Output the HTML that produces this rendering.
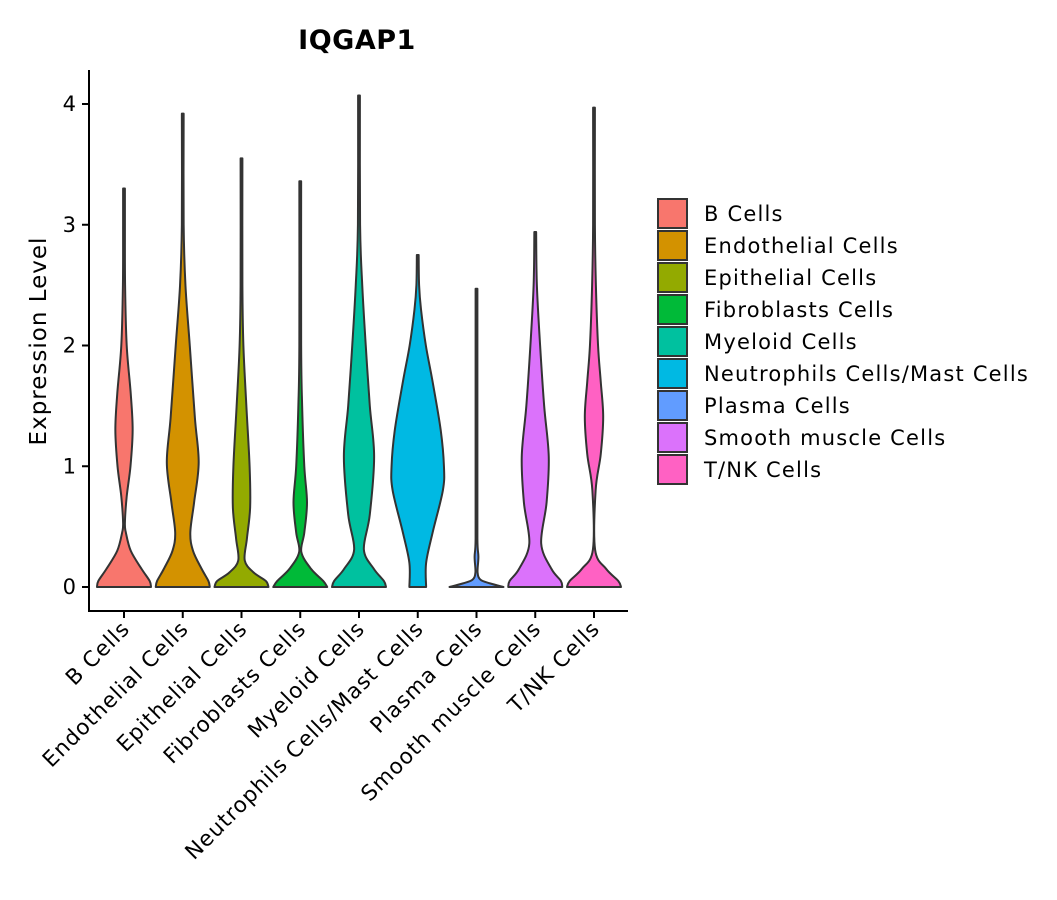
<!DOCTYPE html>
<html><head><meta charset="utf-8"><style>
body{margin:0;background:#fff;}
svg{display:block;font-family:"DejaVu Sans","Liberation Sans",sans-serif;}
</style></head><body>
<svg id="chart" width="1057" height="900" viewBox="0 0 1057 900" xmlns="http://www.w3.org/2000/svg">
<text x="357" y="49" text-anchor="middle" font-size="27" font-weight="bold" fill="#000" letter-spacing="0.5">IQGAP1</text>
<text transform="translate(46,341) rotate(-90)" text-anchor="middle" font-size="23" letter-spacing="1" fill="#000">Expression Level</text>
<g id="plot"></g>
<g id="legend"></g>
</svg>
<script>
const categories = ["B Cells","Endothelial Cells","Epithelial Cells","Fibroblasts Cells","Myeloid Cells","Neutrophils Cells/Mast Cells","Plasma Cells","Smooth muscle Cells","T/NK Cells"];
const colors = ["#F8766D","#D39200","#93AA00","#00BA38","#00C19F","#00B9E3","#619CFF","#DB72FB","#FF61C3"];
const yTicks = [0,1,2,3,4];
// density profiles: [expression value, relative half-width]
const dB = [[0,1],[0.05,0.95],[0.15,0.65],[0.3,0.25],[0.45,0.07],[0.53,0.03],[0.75,0.1],[1.0,0.24],[1.3,0.32],[1.6,0.25],[2.0,0.1],[2.5,0.04],[3.0,0.02],[3.3,0.01]];
const dEndo = [[0,1],[0.05,0.95],[0.15,0.7],[0.3,0.38],[0.45,0.28],[0.7,0.42],[1.03,0.59],[1.4,0.45],[2.0,0.26],[2.5,0.1],[3.0,0.03],[3.92,0.01]];
const dEpi = [[0,1],[0.05,0.9],[0.12,0.45],[0.22,0.12],[0.4,0.2],[0.66,0.32],[1.0,0.3],[1.5,0.18],[2.0,0.07],[2.5,0.03],[3.55,0.01]];
const dFib = [[0,1],[0.05,0.85],[0.15,0.4],[0.29,0.04],[0.45,0.15],[0.7,0.25],[1.0,0.15],[1.5,0.07],[2.0,0.03],[3.36,0.01]];
const dMye = [[0,1],[0.05,0.92],[0.15,0.55],[0.31,0.18],[0.6,0.4],[1.08,0.56],[1.5,0.4],[2.0,0.25],[2.5,0.12],[3.0,0.04],[4.07,0.01]];
const dNeu = [[0,0.31],[0.2,0.31],[0.45,0.55],[0.8,0.93],[1.0,0.97],[1.3,0.85],[1.7,0.55],[2.0,0.3],[2.3,0.12],[2.5,0.05],[2.75,0.02]];
const dPla = [[0,1],[0.03,0.5],[0.06,0.15],[0.12,0.04],[0.25,0.07],[0.4,0.02],[1.0,0.015],[2.47,0.01]];
const dSmo = [[0,1],[0.05,0.95],[0.15,0.6],[0.36,0.22],[0.7,0.42],[1.08,0.5],[1.5,0.33],[2.0,0.18],[2.5,0.06],[2.94,0.01]];
const dTNK = [[0,1],[0.05,0.9],[0.15,0.45],[0.31,0.04],[0.8,0.06],[1.1,0.25],[1.41,0.34],[1.7,0.25],[2.0,0.15],[2.5,0.07],[3.0,0.03],[3.97,0.01]];
const densities = [dB,dEndo,dEpi,dFib,dMye,dNeu,dPla,dSmo,dTNK];

const NS="http://www.w3.org/2000/svg";
const X0=89, X1=628, yZero=587, yUnit=120.75, step=58.75, firstX=124, maxHalf=27;
const xPos = i => firstX + i*step;
const yPos = v => yZero - v*yUnit;
const plot=document.getElementById('plot');
function mk(t,a,p){const e=document.createElementNS(NS,t);for(const k in a)e.setAttribute(k,a[k]);(p||plot).appendChild(e);return e;}

function smooth(pts){
  let d="M"+pts[0][0]+","+pts[0][1];
  for(let i=0;i<pts.length-1;i++){
    const p0=pts[Math.max(0,i-1)],p1=pts[i],p2=pts[i+1],p3=pts[Math.min(pts.length-1,i+2)];
    const c1=[p1[0]+(p2[0]-p0[0])/6,p1[1]+(p2[1]-p0[1])/6];
    const c2=[p2[0]-(p3[0]-p1[0])/6,p2[1]-(p3[1]-p1[1])/6];
    d+=" C"+c1[0].toFixed(2)+","+c1[1].toFixed(2)+" "+c2[0].toFixed(2)+","+c2[1].toFixed(2)+" "+p2[0].toFixed(2)+","+p2[1].toFixed(2);
  }
  return d;
}

densities.forEach((dens,i)=>{
  const cx=xPos(i);
  const right=dens.map(p=>[cx+Math.max(p[1]*maxHalf,0.9),yPos(p[0])]);
  const left=dens.slice().reverse().map(p=>[cx-Math.max(p[1]*maxHalf,0.9),yPos(p[0])]);
  let d=smooth(right);
  d+=" L"+left[0][0].toFixed(2)+","+left[0][1].toFixed(2);
  d+=smooth(left).replace(/^M[^C]*/," ");
  d+=" Z";
  const v=mk('path',{d:d,fill:colors[i],stroke:'#333',"stroke-width":2,"stroke-linejoin":"round"});
  
  
});

const ya=mk('line',{x1:X0,y1:70,x2:X0,y2:611,stroke:'#000',"stroke-width":2});


const xa=mk('line',{x1:X0-1,y1:611,x2:X1,y2:611,stroke:'#000',"stroke-width":2});


yTicks.forEach(t=>{
  const y=yPos(t);
  const tk=mk('line',{x1:X0-7,y1:y,x2:X0,y2:y,stroke:'#000',"stroke-width":2});
  
  
  const tx=mk('text',{x:X0-13,y:y+7,"text-anchor":"end","font-size":21,fill:'#000'});
  tx.textContent=t;
  
  
});
categories.forEach((c,i)=>{
  const x=xPos(i);
  const tk=mk('line',{x1:x,y1:611,x2:x,y2:618,stroke:'#000',"stroke-width":2});
  
  
  const tx=mk('text',{transform:"translate("+(x+7)+",630) rotate(-45)","text-anchor":"end","font-size":21.5,"letter-spacing":1,fill:'#000'});
  tx.textContent=c;
  
  
});
const lg=document.getElementById('legend');


categories.forEach((c,i)=>{
  const y=199+i*32;
  const r=mk('rect',{x:658,y:y,width:29,height:29,fill:colors[i],stroke:'#333',"stroke-width":2},lg);
  
  
  const t=mk('text',{x:704,y:y+22,"font-size":21,"letter-spacing":1.2,fill:'#000'},lg);
  t.textContent=c;
  
  
});
</script>
</body></html>
